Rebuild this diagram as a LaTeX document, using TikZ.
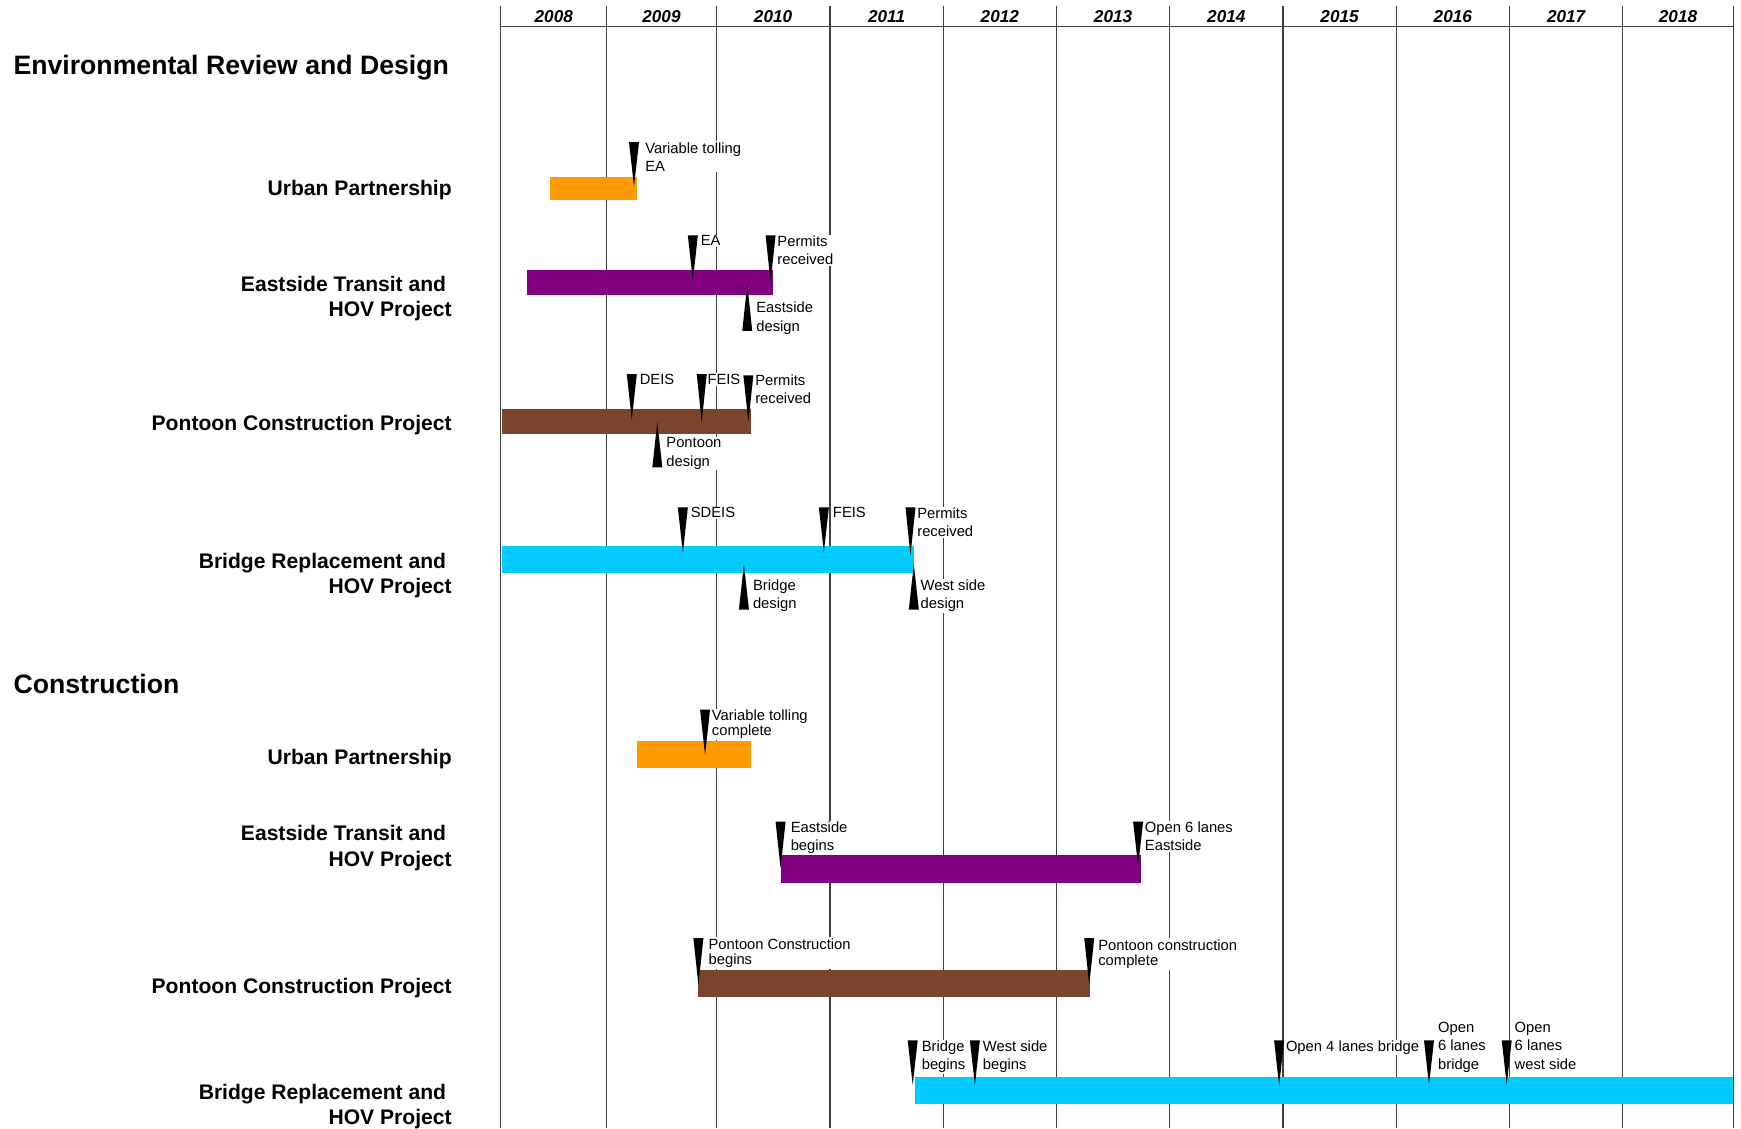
\documentclass[tikz,border=0pt]{standalone}
\usepackage{fontspec}
\setmainfont{Liberation Sans}
\definecolor{uporange}{RGB}{255,153,0}
\definecolor{etpurple}{RGB}{128,0,128}
\definecolor{pcbrown}{RGB}{123,69,44}
\definecolor{brcyan}{RGB}{0,204,255}

\begin{document}
\begin{tikzpicture}[x=1pt, y=-1pt,
  grid/.style={draw=black!75, line width=1.1pt},
  yearlbl/.style={inner sep=0pt, font=\fontsize{15.5}{18}\selectfont\bfseries\itshape},
  sectionlbl/.style={anchor=west, inner sep=0pt, font=\fontsize{24}{28}\selectfont\bfseries},
  rowlbl/.style={anchor=east, align=right, inner sep=0pt, font=\fontsize{19}{23}\selectfont\bfseries},
  mslbl/.style={anchor=north west, align=left, fill=white, inner sep=1pt, font=\fontsize{13.3}{16.5}\selectfont}]
\useasboundingbox (0,0) rectangle (1568,1016);

\foreach \gx in {451,546.5,645,747.5,849.5,951.5,1053.5,1155.5,1257.5,1359.5,1461.5,1561}
  \draw[grid] (\gx,5) -- (\gx,1016);
\draw[grid] (451,24) -- (1561,24);
\foreach \yr/\ya/\yb in {2008/451/546.5,2009/546.5/645,2010/645/747.5,2011/747.5/849.5,2012/849.5/951.5,2013/951.5/1053.5,2014/1053.5/1155.5,2015/1155.5/1257.5,2016/1257.5/1359.5,2017/1359.5/1461.5,2018/1461.5/1561}
  \node[yearlbl] (y\yr) at ({(\ya+\yb)/2},14.5) {\yr};

\node[sectionlbl] (envdesign) at (12,61) {Environmental Review and Design};
\node[sectionlbl] (construct) at (12,616) {Construction};

\node[rowlbl] (erup) at (407,171.5) {Urban Partnership};
\node[rowlbl] (eret) at (407,269) {Eastside Transit and\hspace*{5pt}\\HOV Project};
\node[rowlbl] (erpc) at (407,382.5) {Pontoon Construction Project};
\node[rowlbl] (erbr) at (407,518.5) {Bridge Replacement and\hspace*{5pt}\\HOV Project};
\node[rowlbl] (coup) at (407,683.5) {Urban Partnership};
\node[rowlbl] (coet) at (407,764) {Eastside Transit and\hspace*{5pt}\\HOV Project};
\node[rowlbl] (copc) at (407,889.5) {Pontoon Construction Project};
\node[rowlbl] (cobr) at (407,996.5) {Bridge Replacement and\hspace*{5pt}\\HOV Project};

\foreach \mx/\mt/\ma/\lx/\ly/\txt [count=\i] in {
  571/128/168/581/127/{Variable tolling\\EA},
  624/212/253/631/211/{EA},
  694/212/254/700/211/{Permits\\received},
  569/337/378/576/336/{DEIS},
  632/337/380/637/336/{FEIS},
  674/338/380/680/336/{Permits\\received},
  615/457/498/622/456/{SDEIS},
  742/457/497/750/456/{FEIS},
  820/457/500/826/456/{Permits\\received},
  635/639/680/641/638/{Variable tolling\\[-2.5pt]complete},
  703/740/782/712/739/{Eastside\\begins},
  1025/740/780/1031/739/{Open 6 lanes\\Eastside},
  629/845/887/638/844/{Pontoon Construction\\[-2.5pt]begins},
  981/845/887/989/845/{Pontoon construction\\[-2.5pt]complete},
  822/937/977/830/936/{Bridge\\begins},
  878/937/977/885/936/{West side\\begins},
  1152/937/978/1158/936/{Open 4 lanes bridge},
  1287/937/977/1295/919.5/{Open\\6 lanes\\bridge},
  1357/937/977/1364/919.5/{Open\\6 lanes\\west side}}
  \node[mslbl] (ms\i) at (\lx-1,\ly) {\txt};
\foreach \mx/\ma/\mb/\lx/\ly/\txt [count=\i] in {
  673/256/298/681/271/{Eastside\\design},
  592/380/421/600/393/{Pontoon\\design},
  670/508/549/678/521/{Bridge\\design},
  823/508/549/829/521/{West side\\design}}
  \node[mslbl] (mu\i) at (\lx-1,\ly) {\txt};

\fill[uporange] (495,159) rectangle (574,180);
\fill[etpurple] (475,243) rectangle (696,266);
\fill[pcbrown] (452,368) rectangle (676,391);
\fill[brcyan] (452,492) rectangle (823,516);
\fill[uporange] (574,667) rectangle (676,692);
\fill[etpurple] (703,770) rectangle (1028,795);
\fill[pcbrown] (629,874) rectangle (982,898);
\fill[brcyan] (824,970) rectangle (1561,994);

\foreach \mx/\mt/\ma in {571/128/168,624/212/253,694/212/254,569/337/378,632/337/380,674/338/380,615/457/498,742/457/497,820/457/500,635/639/680,703/740/782,1025/740/780,629/845/887,981/845/887,822/937/977,878/937/977,1152/937/978,1287/937/977,1357/937/977}
  \fill (\mx-4.5,\mt) -- (\mx+4.5,\mt) -- (\mx,\ma) -- cycle;
\foreach \mx/\ma/\mb in {673/256/298,592/380/421,670/508/549,823/508/549}
  \fill (\mx-4.5,\mb) -- (\mx+4.5,\mb) -- (\mx,\ma) -- cycle;
\end{tikzpicture}
\end{document}
